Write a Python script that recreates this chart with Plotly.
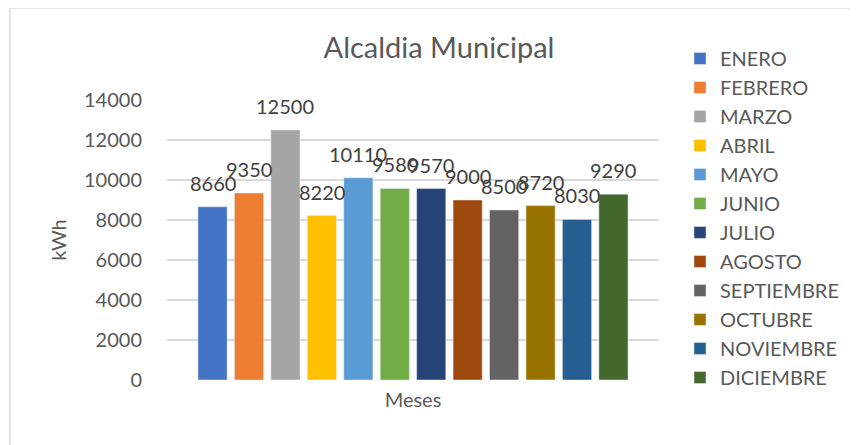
import plotly.graph_objects as go

meses = ["ENERO", "FEBRERO", "MARZO", "ABRIL", "MAYO", "JUNIO", "JULIO",
         "AGOSTO", "SEPTIEMBRE", "OCTUBRE", "NOVIEMBRE", "DICIEMBRE"]
consumo = [8660, 9350, 12500, 8220, 10110, 9580, 9570, 9000, 8500, 8720, 8030, 9290]
colores = ["#4472C4", "#ED7D31", "#A5A5A5", "#FFC000", "#5B9BD5", "#70AD47",
           "#264478", "#9E480E", "#636363", "#997300", "#255E91", "#43682B"]
y_ticks = [0, 2000, 4000, 6000, 8000, 10000, 12000, 14000]

FONT = "Lato"
GRAY = "#595959"

W, H = 857, 445
OFF = 8  # page body margin offset
# target plot-area edges in screenshot pixels
PX_L, PX_R, PX_T, PX_B = 167, 659, 100, 380
L, T = PX_L - OFF, PX_T - OFF
R, B = W - (PX_R - OFF), H - (PX_B - OFF)
pw, ph = W - L - R, H - T - B

def px_x(px):
    return (px - PX_L) / pw

def px_y(py):
    return (PX_B - py) / ph

fig = go.Figure()
for i, (m, v, c) in enumerate(zip(meses, consumo, colores)):
    fig.add_trace(go.Bar(x=[i], y=[v], name=m, marker_color=c, width=0.8,
                         legendgroup=m, hoverinfo="name+y"))
    fig.add_annotation(x=i, y=v, text=str(v), showarrow=False, yanchor="middle",
                       yshift=24, font=dict(family=FONT, size=20, color="#404040"))

fig.update_layout(
    width=W, height=H,
    margin=dict(l=L, r=R, t=T, b=B, autoexpand=False),
    paper_bgcolor="white", plot_bgcolor="white",
    barmode="overlay",
    showlegend=True,
    title=dict(text="Alcaldia Municipal", x=px_x(439), xref="paper",
               y=1 - (48 - OFF) / H, yref="container", xanchor="center", yanchor="middle",
               font=dict(family=FONT, size=29, color=GRAY)),
    legend=dict(x=px_x(680), y=px_y(39), xanchor="left", yanchor="top",
                font=dict(family=FONT, size=20, color=GRAY),
                tracegroupgap=0, bgcolor="rgba(0,0,0,0)", maxheight=420),
    xaxis=dict(range=[-1.25, 12.25], showticklabels=False, showgrid=False,
               zeroline=False, showline=False, fixedrange=True, automargin=False,
               title=dict(text="Meses", standoff=12,
                          font=dict(family=FONT, size=20, color=GRAY))),
    yaxis=dict(range=[0, 14000], tickvals=y_ticks, ticktext=[str(t) for t in y_ticks],
               showgrid=True, automargin=False,
               gridcolor="#D9D9D9", gridwidth=1.5, zeroline=False,
               ticks="outside", ticklen=20, tickcolor="rgba(0,0,0,0)",
               tickfont=dict(family=FONT, size=20, color=GRAY),
               title=dict(text="kWh", standoff=12,
                          font=dict(family=FONT, size=20, color=GRAY))),
    shapes=[
        dict(type="line", xref="paper", yref="paper", x0=px_x(10), x1=px_x(W + 20),
             y0=px_y(8), y1=px_y(8), line=dict(color="#D9D9D9", width=1.5)),
        dict(type="line", xref="paper", yref="paper", x0=px_x(10), x1=px_x(10),
             y0=px_y(8), y1=px_y(H + 20), line=dict(color="#D9D9D9", width=1.5)),
    ],
)

fig.write_html("out.html")
